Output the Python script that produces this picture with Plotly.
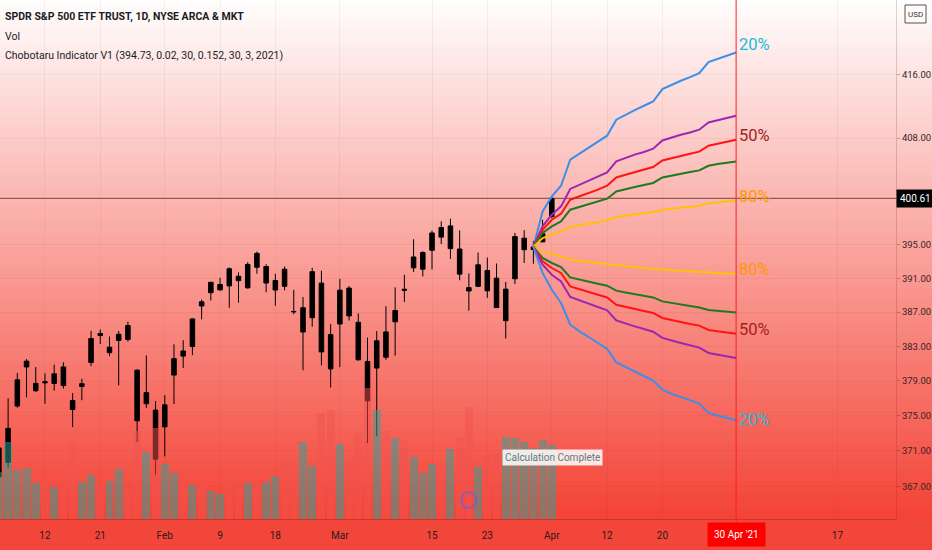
import numpy as np
import plotly.graph_objects as go

# ---------------- data ----------------
dates = ["2021-01-05","2021-01-06","2021-01-07","2021-01-08","2021-01-11","2021-01-12","2021-01-13",
         "2021-01-14","2021-01-15","2021-01-19","2021-01-20","2021-01-21","2021-01-22","2021-01-25",
         "2021-01-26","2021-01-27","2021-01-28","2021-01-29","2021-02-01","2021-02-02","2021-02-03",
         "2021-02-04","2021-02-05","2021-02-08","2021-02-09","2021-02-10","2021-02-11","2021-02-12",
         "2021-02-16","2021-02-17","2021-02-18","2021-02-19","2021-02-22","2021-02-23","2021-02-24",
         "2021-02-25","2021-02-26","2021-03-01","2021-03-02","2021-03-03","2021-03-04","2021-03-05",
         "2021-03-08","2021-03-09","2021-03-10","2021-03-11","2021-03-12","2021-03-15","2021-03-16",
         "2021-03-17","2021-03-18","2021-03-19","2021-03-22","2021-03-23","2021-03-24","2021-03-25",
         "2021-03-26","2021-03-29","2021-03-30","2021-03-31","2021-04-01"]
opens  = [368.10,369.71,376.10,380.59,377.85,378.89,378.69,380.59,376.72,378.34,381.11,384.49,382.25,383.67,
          385.41,380.22,376.36,375.63,373.72,379.65,382.44,382.96,388.20,389.27,389.61,392.12,391.24,389.85,
          393.96,390.42,389.59,392.07,387.06,384.66,386.33,390.41,384.35,385.59,389.82,385.79,381.22,380.46,
          384.66,385.85,389.69,392.23,392.07,394.33,397.07,394.53,394.48,389.88,390.03,391.91,391.00,385.98,
          390.93,394.40,394.42,395.34,398.40]
highs  = [372.50,376.98,379.90,381.49,380.58,379.86,380.86,381.13,377.58,379.23,384.79,384.95,384.13,384.77,
          385.85,380.32,381.93,376.67,377.34,383.22,383.70,386.24,388.47,390.56,391.06,392.28,391.69,392.90,
          394.17,392.66,391.52,392.38,389.62,388.76,392.23,391.88,385.58,390.92,390.07,386.83,384.00,384.76,
          387.68,389.91,391.40,395.65,394.21,396.69,397.83,398.12,396.72,391.57,394.07,393.46,392.75,390.55,
          396.41,396.75,395.45,398.00,400.67]
lows   = [368.05,369.12,375.91,377.10,377.72,376.36,377.85,378.10,373.70,376.75,380.69,383.25,381.84,378.46,
          383.54,372.01,375.89,368.27,370.38,376.32,380.48,381.97,386.14,388.35,389.50,387.50,388.10,389.77,
          391.53,389.33,387.74,389.55,386.74,380.20,385.27,380.78,378.23,380.57,386.00,381.31,371.88,372.64,
          381.42,381.90,388.17,391.74,391.20,392.03,395.08,393.30,390.75,387.15,389.97,388.66,387.47,383.90,
          390.29,392.81,392.72,395.31,398.18]
closes = [371.33,373.55,379.10,381.26,378.69,378.77,379.79,378.46,375.70,378.65,383.89,384.24,382.88,384.39,
          383.79,374.41,377.63,370.07,376.23,381.55,381.85,386.19,387.71,390.51,390.25,390.08,390.71,392.64,
          392.30,392.39,390.72,390.03,387.03,387.50,391.77,382.33,380.36,389.58,386.54,381.42,376.70,383.63,
          381.72,387.17,389.58,393.53,394.06,396.41,395.91,397.26,391.48,389.48,392.59,389.50,387.52,389.70,
          395.98,395.78,394.73,396.33,400.61]
volumes_m = [66.4,107.7,68.8,71.7,51.0,52.5,45.3,50.0,107.2,51.2,61.8,47.8,52.9,70.4,42.7,123.3,94.2,126.8,
             76.7,64.4,52.4,47.1,48.7,38.8,35.1,59.2,42.9,50.6,50.9,52.3,59.7,83.2,67.4,107.3,73.9,148.2,152.0,
             105.3,79.6,119.9,183.4,152.0,123.1,113.6,109.9,86.2,64.5,76.5,73.7,97.9,115.3,156.0,72.8,91.0,92.6,
             114.8,113.0,108.1,100.0,110.0,104.0]

future_dates = ["2021-04-05","2021-04-06","2021-04-07","2021-04-08","2021-04-09","2021-04-12","2021-04-13",
                "2021-04-14","2021-04-15","2021-04-16","2021-04-19","2021-04-20","2021-04-21","2021-04-22",
                "2021-04-23","2021-04-26","2021-04-27","2021-04-28","2021-04-29","2021-04-30","2021-05-03",
                "2021-05-04","2021-05-05","2021-05-06","2021-05-07","2021-05-10","2021-05-11","2021-05-12",
                "2021-05-13","2021-05-14","2021-05-17"]

# Chobotaru projection bands (start 2021-03-30 at 394.73, 22 bars forward)
fan_start = "2021-03-30"
up20 = [394.73,399.02,400.84,402.14,405.34,406.08,406.78,407.52,408.31,410.30,410.92,411.50,412.04,412.57,
        414.13,414.68,415.18,415.64,416.15,417.54,417.96,418.34,418.76]
up35 = [394.73,397.21,398.62,399.63,401.75,402.27,402.80,403.29,403.78,405.13,405.55,405.96,406.29,406.70,
        407.72,408.09,408.43,408.71,409.05,409.95,410.20,410.45,410.79]
up50 = [394.73,396.80,398.01,398.74,400.44,400.84,401.26,401.66,402.14,403.16,403.49,403.83,404.10,404.44,
        405.25,405.55,405.83,406.08,406.33,407.07,407.32,407.56,407.81]
up65 = [394.73,396.40,397.21,397.81,399.22,399.55,399.87,400.20,400.56,401.45,401.75,401.99,402.24,402.48,
        403.16,403.41,403.61,403.83,404.02,404.59,404.81,404.96,405.13]
up80 = [394.73,395.80,396.20,396.60,397.13,397.32,397.53,397.69,397.93,398.34,398.50,398.62,398.78,398.95,
        399.22,399.35,399.47,399.59,399.71,399.99,400.11,400.23,400.35]
dn80 = [394.73,394.20,393.92,393.60,393.20,393.05,392.93,392.81,392.69,392.49,392.37,392.28,392.21,392.13,
        392.01,391.93,391.89,391.81,391.77,391.65,391.62,391.57,391.53]
dn65 = [394.73,393.41,392.81,392.33,391.09,390.82,390.58,390.35,390.11,389.52,389.31,389.13,388.92,388.72,
        388.25,388.06,387.90,387.71,387.54,387.24,387.12,387.04,386.95]
dn50 = [394.73,393.00,392.21,391.62,390.03,389.72,389.40,389.08,388.72,387.86,387.59,387.36,387.12,386.89,
        386.30,386.06,385.78,385.59,385.40,384.89,384.73,384.61,384.46]
dn35 = [394.73,392.61,391.41,390.62,388.77,388.37,387.98,387.59,387.19,386.02,385.63,385.31,385.01,384.69,
        383.96,383.64,383.37,383.10,382.83,382.21,382.01,381.82,381.63]
dn20 = [394.73,391.62,389.63,388.06,385.51,384.73,384.07,383.37,382.68,381.12,380.59,380.05,379.51,379.01,
        377.98,377.48,377.14,376.75,376.37,375.31,375.00,374.74,374.47]

price_ticks = [367, 371, 375, 379, 383, 387, 391, 395, 408, 416]
time_ticks = [("2021-01-12","12"),("2021-01-21","21"),("2021-02-01","Feb"),("2021-02-09","9"),
              ("2021-02-18","18"),("2021-03-01","Mar"),("2021-03-15","15"),("2021-03-23","23"),
              ("2021-04-01","Apr"),("2021-04-12","12"),("2021-04-20","20"),("2021-05-17","17")]
last_price = 400.61
cursor_date = "2021-04-30"
cursor_label = "30 Apr '21"
dividend_date = "2021-03-19"

# ---------------- scales ----------------
all_dates = dates + future_dates
ORIGIN = all_dates.index("2021-01-12")
def xi(d):
    return all_dates.index(d) - ORIGIN

x_hist = [xi(d) for d in dates]
fan_x = [xi(fan_start) + k for k in range(len(up20))]

Y_LO, Y_HI = 363.4, 425.5
X_LO, X_HI = -4.88, 92.35
FONT = "Roboto, Liberation Sans, sans-serif"

fig = go.Figure()

# gradient background (overlapping strips to avoid seams)
N = 104
ov = 3 / 519
for k in range(N):
    t0 = k / N
    t1 = (k + 1) / N
    t = (k + 0.5) / N          # 0 at top, 1 at bottom
    r = round(255 + (244 - 255) * t)
    g = round(255 + (67 - 255) * t)
    b = round(255 + (54 - 255) * t)
    fig.add_shape(type="rect", xref="paper", yref="paper", x0=0, x1=940/896,
                  y0=1 - t1, y1=min(1 - t0 + ov, 1.0), line=dict(width=0),
                  fillcolor=f"rgb({r},{g},{b})", layer="below")

fig.add_trace(go.Candlestick(
    x=x_hist, open=opens, high=highs, low=lows, close=closes,
    increasing=dict(line=dict(color="#000000", width=1), fillcolor="#000000"),
    decreasing=dict(line=dict(color="#000000", width=1), fillcolor="#000000"),
    whiskerwidth=0, hoverinfo="skip", yaxis="y"))

fig.add_trace(go.Scatter(x=[X_LO - 5, X_HI + 5], y=[last_price, last_price], mode="lines",
                         line=dict(color="rgba(70,35,35,0.75)", width=1), hoverinfo="skip"))

fan = [(up20, "#3B8FE8"), (up35, "#9C27B0"), (up50, "#FF1414"), (up65, "#1F7A1F"), (up80, "#FFC107"),
       (dn80, "#FFC107"), (dn65, "#1F7A1F"), (dn50, "#FF1414"), (dn35, "#9C27B0"), (dn20, "#3B8FE8")]
for vals, col in fan:
    fig.add_trace(go.Scatter(x=fan_x, y=vals, mode="lines", line=dict(color=col, width=2),
                             hoverinfo="skip"))

vcol = ["rgba(38,166,154,0.5)" if c >= o else "rgba(239,83,80,0.5)" for o, c in zip(opens, closes)]
fig.add_trace(go.Bar(x=x_hist, y=volumes_m, marker=dict(color=vcol, line=dict(width=0)),
                     width=0.86, yaxis="y2", hoverinfo="skip"))

# cursor vertical line
xc = xi(cursor_date)
fig.add_shape(type="line", xref="x", yref="paper", x0=xc, x1=xc, y0=-0.01, y1=1,
              line=dict(color="#FF1E1E", width=1))

annots = []
lab_specs = [(up20[-1], "20%", "#1BBCD8", 8), (up50[-1], "50%", "#A61E1E", 4), (up80[-1], "80%", "#FF9800", 4),
             (dn80[-1], "80%", "#FF9800", 4), (dn50[-1], "50%", "#A61E1E", 4), (dn20[-1], "20%", "#1BBCD8", 1)]
for v, txt, col, ys in lab_specs:
    annots.append(dict(x=fan_x[-1], y=np.log10(v), xref="x", yref="y", text=txt, showarrow=False,
                       xanchor="left", yanchor="middle", xshift=1, yshift=ys,
                       font=dict(family=FONT, size=16.5, color=col)))

# header text
hdr = [("<b>SPDR S&P 500 ETF TRUST, 1D, NYSE ARCA & MKT</b>", 17),
       ("Vol", 37), ("Chobotaru Indicator V1 (394.73, 0.02, 30, 0.152, 30, 3, 2021)", 56)]
for txt, ypx in hdr:
    annots.append(dict(x=3/896, y=1 - ypx/519, xref="paper", yref="paper", text=txt, showarrow=False,
                       xanchor="left", yanchor="middle", font=dict(family=FONT, size=10.5, color="#1c1c24")))

# last price label
annots.append(dict(x=1, y=np.log10(last_price), xref="paper", yref="y", text="400.61", showarrow=False,
                   xanchor="left", yanchor="middle", xshift=0, bgcolor="#000000", borderpad=3,
                   font=dict(family=FONT, size=10, color="#ffffff")))
# cursor date label
annots.append(dict(x=xc, y=0, xref="x", yref="paper", text=cursor_label, showarrow=False,
                   xanchor="center", yanchor="top", yshift=-3, bgcolor="#FF0000", borderpad=6,
                   font=dict(family=FONT, size=10, color="#ffffff")))
# calculation complete box
annots.append(dict(x=552/896, y=1 - 457/519, xref="paper", yref="paper", text="Calculation Complete",
                   showarrow=False, xanchor="center", yanchor="middle", bgcolor="rgba(255,255,255,0.85)",
                   borderpad=2, font=dict(family=FONT, size=10, color="#5a7c7c")))
# USD badge
annots.append(dict(x=915/896, y=1 - 14/519, xref="paper", yref="paper", text="USD", showarrow=False,
                   xanchor="center", yanchor="middle", font=dict(family=FONT, size=8, color="#333333")))
fig.add_shape(type="rect", xref="paper", yref="paper", x0=905/896, x1=926/896, y0=1 - 23/519, y1=1 - 5/519,
              line=dict(color="#555555", width=1), fillcolor="rgba(255,255,255,0)")
# dividend marker
xd = xi(dividend_date)
fig.add_shape(type="circle", xref="x", yref="paper", x0=xd - 0.8, x1=xd + 0.8,
              y0=1 - 508/519, y1=1 - 492/519, line=dict(color="#6b63d6", width=1.5))

fig.update_layout(
    width=932, height=550, margin=dict(l=0, r=36, t=0, b=31),
    paper_bgcolor="#F3463A", plot_bgcolor="rgba(0,0,0,0)", showlegend=False,
    annotations=annots, bargap=0, hovermode=False,
    xaxis=dict(range=[X_LO, X_HI], tickvals=[xi(d) for d, _ in time_ticks],
               ticktext=[t for _, t in time_ticks], showgrid=True, gridcolor="rgba(120,40,40,0.06)",
               zeroline=False, ticks="outside", ticklen=7, tickcolor="rgba(0,0,0,0)",
               tickfont=dict(family=FONT, size=10, color="#2b1b1b"), rangeslider=dict(visible=False),
               showline=True, linecolor="rgba(120,30,30,0.35)", linewidth=1, automargin=False),
    yaxis=dict(type="log", side="right", range=[np.log10(Y_LO), np.log10(Y_HI)],
               tickvals=price_ticks, ticktext=[f"{v:.2f}" for v in price_ticks],
               showgrid=True, gridcolor="rgba(120,40,40,0.06)", zeroline=False,
               ticks="outside", ticklen=3, tickcolor="rgba(90,40,40,0.35)",
               tickfont=dict(family=FONT, size=9.5, color="#3a2323"),
               showline=True, linecolor="rgba(120,30,30,0.2)", linewidth=1, automargin=False),
    yaxis2=dict(overlaying="y", range=[0, 726], visible=False),
)

fig.write_html("out.html", config={"displayModeBar": False},
               post_script="document.body.style.margin='0px';")
